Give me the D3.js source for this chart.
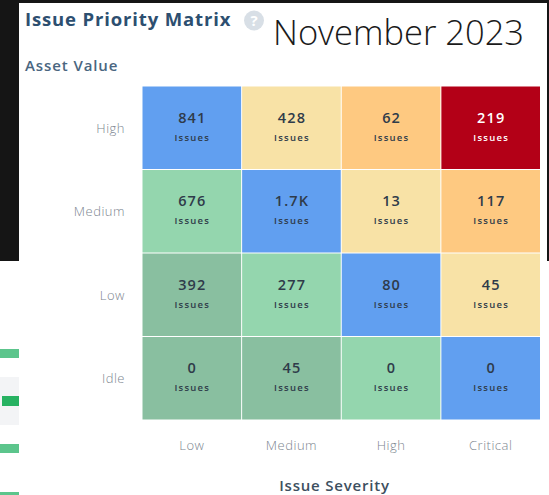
<!DOCTYPE html>
<html><head><meta charset="utf-8">
<script src="https://cdn.jsdelivr.net/npm/d3@7/dist/d3.min.js"></script>
<style>html,body{margin:0;padding:0;background:#fff;overflow:hidden}svg{display:block}</style>
</head><body><svg id="c" width="549" height="495"></svg>
<script>
const severities = ["Low","Medium","High","Critical"];
const assetValues = ["High","Medium","Low","Idle"];
const rowHigh = ["841","428","62","219"];
const rowMedium = ["676","1.7K","13","117"];
const rowLow = ["392","277","80","45"];
const rowIdle = ["0","45","0","0"];
const colorHigh = ["#619ff0","#f8e2a6","#fec981","#b30017"];
const colorMedium = ["#94d6ae","#619ff0","#f8e2a6","#fec981"];
const colorLow = ["#89bfa0","#94d6ae","#619ff0","#f8e2a6"];
const colorIdle = ["#89bfa0","#89bfa0","#94d6ae","#619ff0"];
const rows = [rowHigh,rowMedium,rowLow,rowIdle];
const fills = [colorHigh,colorMedium,colorLow,colorIdle];
const svg = d3.select("#c");
const font = "'Open Sans',sans-serif";

// screenshot surroundings
svg.append("rect").attr("x",0).attr("y",0).attr("width",549).attr("height",261).attr("fill","#151515");
svg.append("rect").attr("x",19).attr("y",3).attr("width",528).attr("height",492).attr("fill","#fff");
svg.append("rect").attr("x",547).attr("y",0).attr("width",2).attr("height",495).attr("fill","#fff");
svg.append("rect").attr("x",547).attr("y",0).attr("width",2).attr("height",261).attr("fill","#151515");
svg.append("rect").attr("x",0).attr("y",377).attr("width",19).attr("height",48).attr("fill","#f3f4f6");
[[349,9],[444,9],[492,3]].forEach(([y,h])=>svg.append("rect").attr("x",0).attr("y",y).attr("width",19).attr("height",h).attr("fill","#5cc58c"));
svg.append("rect").attr("x",2).attr("y",396).attr("width",17).attr("height",10).attr("fill","#27b262");

const x = d3.scaleBand().domain(severities).range([142,540.5]).padding(0);
const y = d3.scaleBand().domain(assetValues).range([86,420]).padding(0);

const g = svg.append("g");
assetValues.forEach((a,r)=>severities.forEach((s,c)=>{
  const cx = x(s)+x.bandwidth()/2, cy = y(a)+y.bandwidth()/2;
  const light = fills[r][c]==="#b30017";
  g.append("rect").attr("x",x(s)+0.5).attr("y",y(a)+0.5)
    .attr("width",x.bandwidth()-1).attr("height",y.bandwidth()-1)
    .attr("fill",fills[r][c]);
  g.append("text").attr("x",cx+0.5).attr("y",cy-5).attr("text-anchor","middle")
    .attr("font-family",font).attr("font-size",14.5).attr("font-weight",600).attr("letter-spacing",1.1)
    .attr("fill",light?"#fff":"#2f3b4a").text(rows[r][c]);
  g.append("text").attr("x",cx+0.5).attr("y",cy+13).attr("text-anchor","middle")
    .attr("font-family",font).attr("font-size",9.5).attr("font-weight",600).attr("letter-spacing",1.25)
    .attr("fill",light?"#fff":"#2f3b4a").text("Issues");
}));

const axisX = d3.axisBottom(x).tickSize(0).tickPadding(21);
const gx = svg.append("g").attr("transform","translate(0,420)").call(axisX);
const axisY = d3.axisLeft(y).tickSize(0).tickPadding(17);
const gy = svg.append("g").attr("transform","translate(142,1)").call(axisY);
[gx,gy].forEach(a=>{a.select(".domain").remove();
  a.selectAll("text").attr("font-family",font).attr("font-size",13).attr("font-weight",300).attr("letter-spacing",0.5).attr("fill","#7d868f");});

svg.append("text").attr("x",25).attr("y",26).attr("font-family",font).attr("font-size",18.5).attr("font-weight",700).attr("letter-spacing",0.85).attr("fill","#2d4f70").text("Issue Priority Matrix");
svg.append("circle").attr("cx",254).attr("cy",20.5).attr("r",10).attr("fill","#d8dfe6");
svg.append("text").attr("x",254).attr("y",26).attr("text-anchor","middle").attr("font-family",font).attr("font-size",15).attr("font-weight",700).attr("fill","#fff").text("?");
svg.append("text").attr("x",25).attr("y",71).attr("font-family",font).attr("font-size",15).attr("font-weight",600).attr("letter-spacing",0.9).attr("fill","#4a6680").text("Asset Value");
svg.append("text").attr("x",334.5).attr("y",491).attr("text-anchor","middle").attr("font-family",font).attr("font-size",15).attr("font-weight",600).attr("letter-spacing",0.8).attr("fill","#3d4f60").text("Issue Severity");
svg.append("text").attr("x",273).attr("y",45).attr("font-family",font).attr("font-size",34.5).attr("font-weight",300).attr("fill","#1a1a1a").text("November 2023");
</script></body></html>
